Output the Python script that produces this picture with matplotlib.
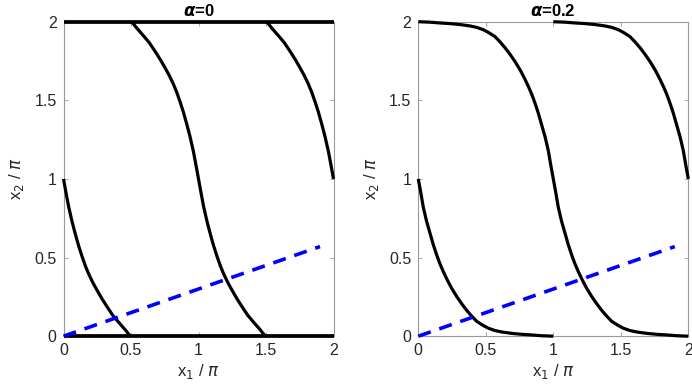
import numpy as np
import matplotlib
matplotlib.use("Agg")
import matplotlib.pyplot as plt

plt.rcParams['font.family'] = ['Liberation Sans', 'DejaVu Sans']
plt.rcParams['lines.scale_dashes'] = False

# alpha = 0 : main contour (x1/pi, x2/pi)
a0_x1 = [0.505, 0.545, 0.591, 0.636, 0.678, 0.715, 0.752, 0.784, 0.814,
         0.838, 0.863, 0.888, 0.912, 0.937, 0.962, 0.982, 1.0,
         1.018, 1.038, 1.063, 1.088, 1.112, 1.137, 1.162, 1.186, 1.216,
         1.248, 1.285, 1.322, 1.364, 1.409, 1.455, 1.495]
a0_x2 = [2.0, 1.957, 1.912, 1.866, 1.812, 1.762, 1.707, 1.657, 1.603,
         1.553, 1.492, 1.425, 1.352, 1.27, 1.176, 1.085, 1.0,
         0.915, 0.824, 0.73, 0.648, 0.575, 0.508, 0.447, 0.397, 0.343,
         0.293, 0.238, 0.188, 0.134, 0.088, 0.043, 0.0]
# alpha = 0 : boundary contours
a0_edge_x1 = [0.0, 2.0]
a0_edge_top = [2.0, 2.0]
a0_edge_bot = [0.0, 0.0]

# alpha = 0.2 : main contour
a2_x1 = [0.0, 0.086, 0.16, 0.234, 0.308, 0.383, 0.432, 0.482, 0.519, 0.568,
         0.605, 0.642, 0.679, 0.716, 0.753, 0.785, 0.815, 0.840, 0.864,
         0.889, 0.914, 0.939, 0.963, 0.983, 1.0,
         1.017, 1.037, 1.061, 1.086, 1.111, 1.136, 1.160, 1.185, 1.215,
         1.247, 1.284, 1.321, 1.358, 1.395, 1.432, 1.481, 1.518, 1.568,
         1.617, 1.692, 1.766, 1.840, 1.914, 2.0]
a2_x2 = [2.0, 1.997, 1.992, 1.988, 1.982, 1.973, 1.964, 1.949, 1.932, 1.905,
         1.872, 1.835, 1.793, 1.747, 1.695, 1.643, 1.589, 1.539, 1.483,
         1.418, 1.343, 1.268, 1.18, 1.08, 1.0,
         0.92, 0.82, 0.732, 0.657, 0.582, 0.517, 0.461, 0.411, 0.357,
         0.305, 0.253, 0.207, 0.165, 0.128, 0.095, 0.068, 0.051, 0.036,
         0.027, 0.018, 0.012, 0.008, 0.003, 0.0]

# dashed line
line_x1 = [0.0, 1.9]
line_x2 = [0.0, 0.57]

titles = [r'$\mathbfit{\alpha}$=0', r'$\mathbfit{\alpha}$=0.2']
ticks = [0, 0.5, 1, 1.5, 2]
tick_labels = ['0', '0.5', '1', '1.5', '2']

W, H = 692, 391
fig = plt.figure(figsize=(W / 100, H / 100), dpi=100)

ax_pos = [
    [63.5 / W, 54.8 / H, 270 / W, 314.5 / H],
    [418.3 / W, 54.8 / H, 270 / W, 314.5 / H],
]

LW = 2.3
gray = '#999999'
txt = '#262626'


def split_shift(x1, x2):
    x1 = np.asarray(x1); x2 = np.asarray(x2)
    lower = x2 <= 1.0
    upper = x2 >= 1.0
    return (x1[lower] - 1, x2[lower]), (x1[upper] + 1, x2[upper])


for i, pos in enumerate(ax_pos):
    ax = fig.add_axes(pos)
    if i == 0:
        cx1, cx2 = a0_x1, a0_x2
    else:
        cx1, cx2 = a2_x1, a2_x2
    kw = dict(color='black', lw=LW, clip_on=False, zorder=3,
              solid_capstyle='butt', solid_joinstyle='round')
    ax.plot(cx1, cx2, **kw)
    (lx, ly), (rx, ry) = split_shift(cx1, cx2)
    ax.plot(lx, ly, **kw)
    ax.plot(rx, ry, **kw)
    if i == 0:
        ax.plot(a0_edge_x1, a0_edge_top, color='black', lw=LW + 0.4,
                clip_on=False, zorder=3, solid_capstyle='butt')
        ax.plot(a0_edge_x1, a0_edge_bot, color='black', lw=LW + 0.4,
                clip_on=False, zorder=3, solid_capstyle='butt')
    ax.plot(line_x1, line_x2, color='#0000ff', lw=2.6, dashes=(9.5, 6.5),
            clip_on=False, zorder=4, dash_capstyle='butt')

    ax.set_xlim(0, 2)
    ax.set_ylim(0, 2)
    ax.set_xticks(ticks)
    ax.set_xticklabels(tick_labels)
    ax.set_yticks(ticks)
    ax.set_yticklabels(tick_labels)
    ax.tick_params(direction='in', length=3, width=0.6, color=gray,
                   top=True, right=True, labelsize=11.5, labelcolor=txt,
                   pad=5)
    for s in ax.spines.values():
        s.set_color(gray)
        s.set_linewidth(0.8)
    ax.set_xlabel(r'x$_1$ / $\pi$', fontsize=12, color=txt, labelpad=3)
    ax.set_ylabel(r'x$_2$ / $\pi$', fontsize=12, color=txt, labelpad=6)
    ax.set_title(titles[i], fontsize=12, fontweight='bold', pad=4)

fig.savefig('out.png', dpi=100)
